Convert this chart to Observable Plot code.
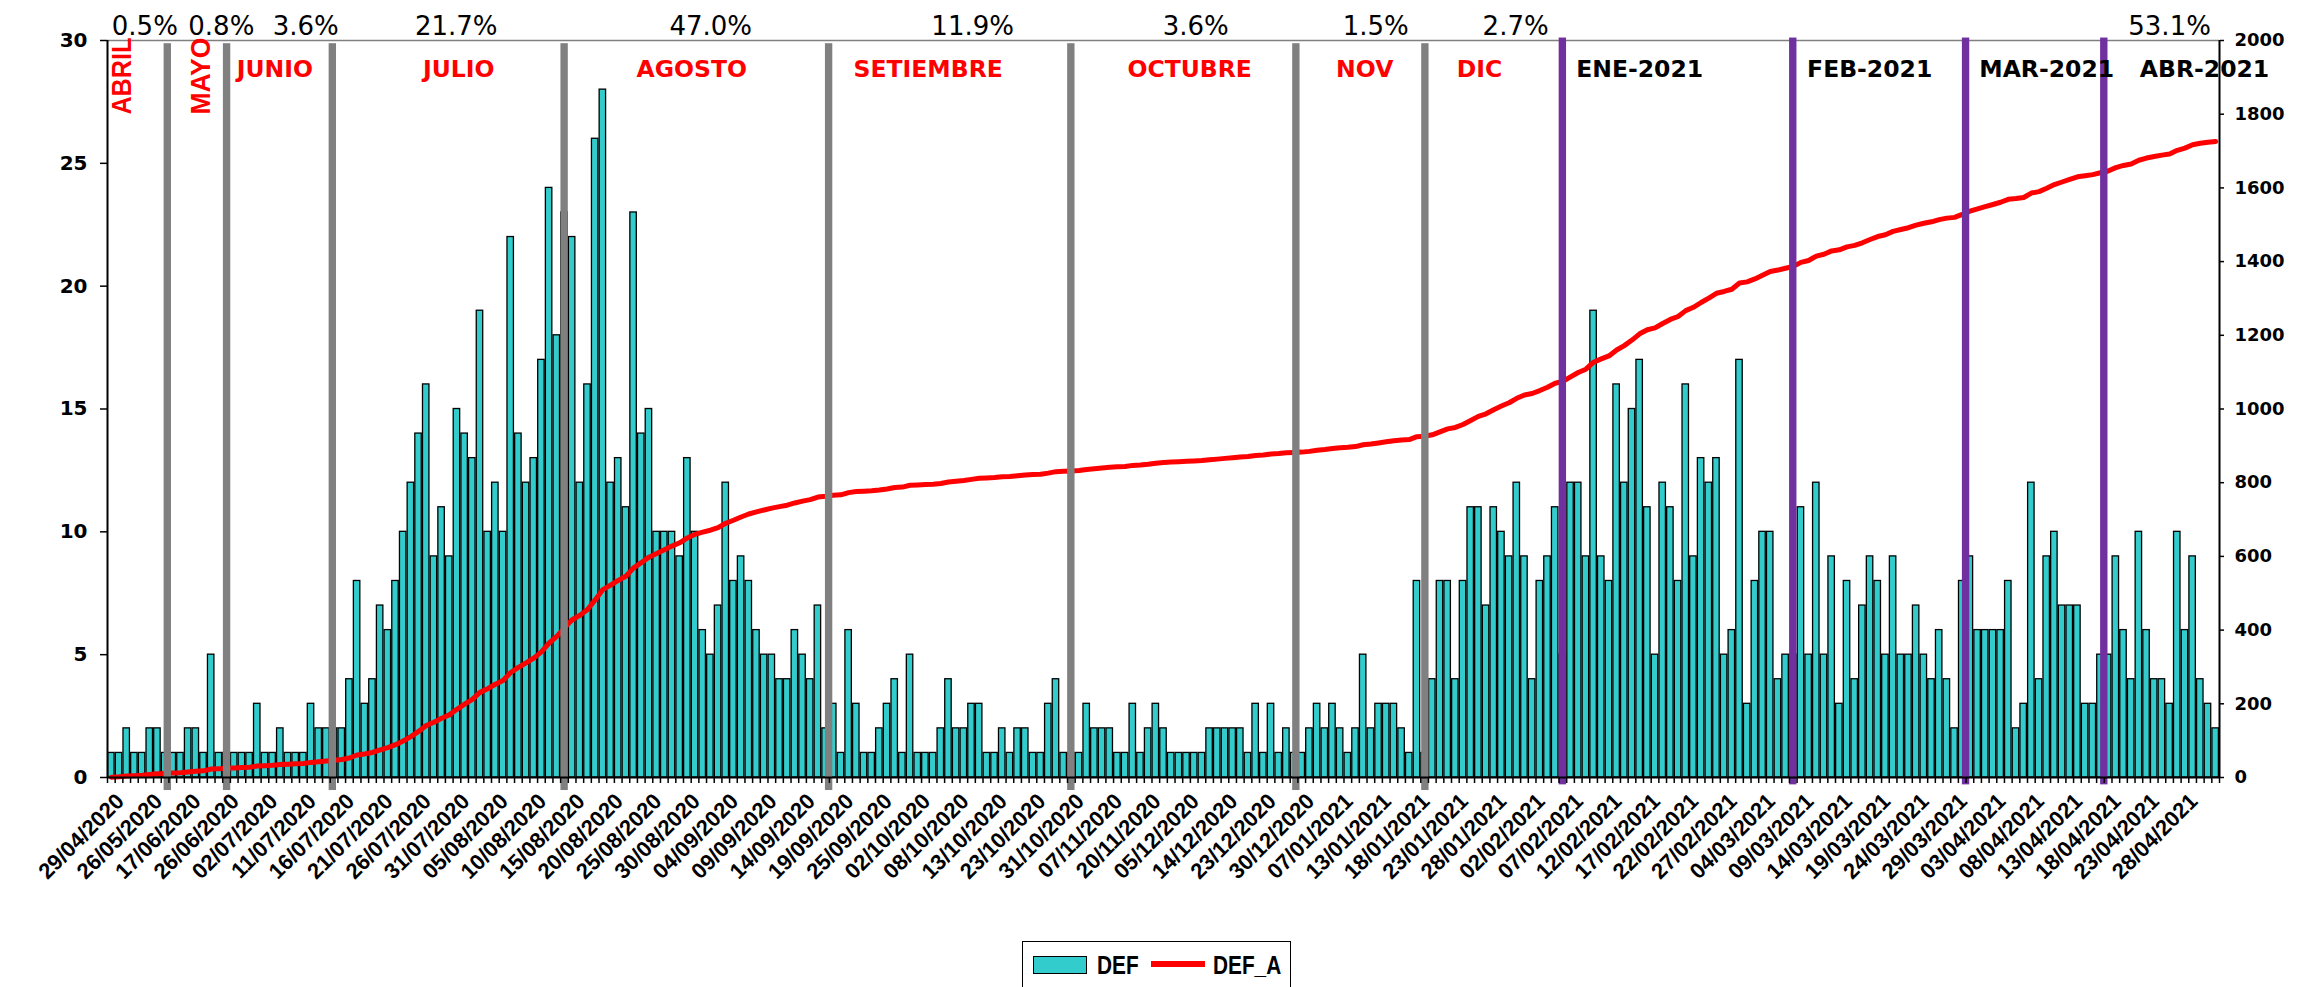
<!DOCTYPE html>
<html><head><meta charset="utf-8">
<script src="https://cdn.jsdelivr.net/npm/d3@7"></script>
<script src="https://cdn.jsdelivr.net/npm/@observablehq/plot@0.6"></script>
<style>
html,body{margin:0;padding:0;background:#fff;width:2298px;height:987px;overflow:hidden;}
#wrap{position:relative;width:2298px;height:987px;}
#legend{position:absolute;left:1022px;top:941px;width:269px;height:70px;border:1.5px solid #000;box-sizing:border-box;
  font-family:"Liberation Sans",Arial,sans-serif;font-weight:bold;font-size:26px;color:#000;}
#legend .sw{position:absolute;left:10px;top:14px;width:54px;height:18px;background:#33CCCC;border:1.5px solid #000;box-sizing:border-box;}
#legend .t1{position:absolute;left:74px;top:8px;line-height:30px;transform:scaleX(0.8);transform-origin:left center;}
#legend .ln{position:absolute;left:128px;top:19px;width:54px;height:6px;background:#FF0000;}
#legend .t2{position:absolute;left:190px;top:8px;line-height:30px;transform:scaleX(0.8);transform-origin:left center;}
</style></head>
<body><div id="wrap"><div id="chart"></div>
<div id="legend"><div class="sw"></div><div class="t1">DEF</div><div class="ln"></div><div class="t2">DEF_A</div></div>
</div>
<script>
// ---- data ----
const tickLabels = ["29/04/2020","26/05/2020","17/06/2020","26/06/2020","02/07/2020","11/07/2020","16/07/2020","21/07/2020","26/07/2020","31/07/2020","05/08/2020","10/08/2020","15/08/2020","20/08/2020","25/08/2020","30/08/2020","04/09/2020","09/09/2020","14/09/2020","19/09/2020","25/09/2020","02/10/2020","08/10/2020","13/10/2020","23/10/2020","31/10/2020","07/11/2020","20/11/2020","05/12/2020","14/12/2020","23/12/2020","30/12/2020","07/01/2021","13/01/2021","18/01/2021","23/01/2021","28/01/2021","02/02/2021","07/02/2021","12/02/2021","17/02/2021","22/02/2021","27/02/2021","04/03/2021","09/03/2021","14/03/2021","19/03/2021","24/03/2021","29/03/2021","03/04/2021","08/04/2021","13/04/2021","18/04/2021","23/04/2021","28/04/2021"];

// DEF: daily deaths, one value per category
const def = [
1,1,2,1,1,2,2,1, 1, 1,2,2,1,5,1, 1, 1,1,1,3,1,1,2,1,1,1,3,2,2, 2,
2,4,8,3,4,7,6,8,10,12,14,16,9,11,9,15,14,13,19,10,12,10,22,14,12,13,17,24,
18,23,
22,12,16,26,28,12,13,11,23,14,15,10,10,10,9,13,10,6,5,7,12,8,9,8,6,5,
5,4,4,6,5,4,7,2, 3,
1,6,3,1,1,2,3,4,1,5,1,1,1,2,4,2,2,3,3,1,
1,2,1,2,2,1,1,3,4,1, 1,
1,3,2,2,2,1,1,3,1,2,3,2,1,1,1,1,1,2,
2,2,2,2,1,3,1,3,1,2, 1,1,
2,3,2,3,2,1,2,5,2,3,3,3,2,1,8,1, 4,
8,8,4,8,11,11,7,11,10,9,12,9,4,8,9,11, 5,
12,12,9,19,9,8,16,12,15,17,11,
5,12,11,8,16,9,13,12,13,5,6,17,3,8,10,10,4,5, 5, 11,
5,12,5,9,3,8,4,7,9,
8,5,9,5,5,7,5,4,6,4,2,8, 9,
6,6,6,6,8,2,3,12,4,9,10,7,7,7,3,3,5, 5,
9,6,4,10,6,4,4,3,10,6,9,4,3,2
];

// period shares shown above the plot
const shares = ["0.5%","0.8%","3.6%","21.7%","47.0%","11.9%","3.6%","1.5%","2.7%","53.1%"];
const redMonths = ["JUNIO","JULIO","AGOSTO","SETIEMBRE","OCTUBRE","NOV","DIC"];
const blackMonths = ["ENE-2021","FEB-2021","MAR-2021","ABR-2021"];
const vertMonths = ["ABRIL","MAYO"];

// ---- annotation layout (category-index positions) ----
const sharePos = [4.86,14.82,25.82,45.41,78.55,112.65,141.69,165.13,183.35,268.5];
const redPos = [21.78,45.74,76.07,106.86,140.9,163.7,178.66];
const blackPos = [199.5,229.45,252.5,273.05];
const vertPos = [1.95,12.15];
const grayPos = [7.85,15.57,29.34,59.52,93.96,125.5,154.8,171.6];
const purplePos = [189.5,219.5,242.0,260.0];

const N = def.length;
const cum = d3.cumsum(def);
const rows = def.map((v, i) => ({i, v, a: cum[i]}));
const LEFTMAX = 30, RIGHTMAX = 2000;
const k = LEFTMAX / RIGHTMAX;

const numFont = "DejaVu Sans";
const chart = Plot.plot({
  width: 2298, height: 941,
  marginLeft: 107, marginRight: 79, marginTop: 40, marginBottom: 164,
  x: {domain: [0, N], axis: null},
  y: {domain: [0, LEFTMAX], axis: null},
  style: {background: "transparent", overflow: "visible"},
  marks: [
    Plot.ruleY([LEFTMAX], {stroke: "#808080", strokeWidth: 1.5}),
    Plot.rectY(rows, {x1: d => d.i + 0.08, x2: d => d.i + 0.92, y1: 0, y2: "v",
      fill: "#33CCCC", stroke: "#000", strokeWidth: 1.3}),
    Plot.line(rows, {x: d => d.i + 0.5, y: d => d.a * k, stroke: "#FF0000", strokeWidth: 5}),
    Plot.rect(grayPos, {x1: d => d - 0.48, x2: d => d + 0.48, y1: -0.53, y2: 29.87, fill: "#808080"}),
    Plot.rect(purplePos, {x1: d => d - 0.48, x2: d => d + 0.48, y1: -0.3, y2: 30.1, fill: "#7030A0"}),
    Plot.ruleY([0], {stroke: "#000", strokeWidth: 2}),
    Plot.ruleX([0, N], {stroke: "#000", strokeWidth: 2}),
    Plot.axisX({ticks: d3.range(0, N + 1), tickSize: 6, tickFormat: () => "", label: null, stroke: "#000", strokeWidth: 1.5}),
    Plot.axisY({anchor: "left", ticks: d3.range(0, LEFTMAX + 1, 5), tickSize: 7, tickPadding: 13, label: null,
      fontSize: 20, fontWeight: "bold", fontFamily: numFont, fill: "#000", stroke: "#000", strokeWidth: 1.5}),
    Plot.axisY({anchor: "right", ticks: d3.range(0, RIGHTMAX + 1, 200).map(d => d * k), tickSize: 4, tickPadding: 11,
      tickFormat: d => String(Math.round(d / k)), label: null,
      fontSize: 18, fontWeight: "bold", fontFamily: numFont, fill: "#000", stroke: "#000", strokeWidth: 1.5}),
    Plot.text(tickLabels, {x: (d, j) => j * 5 + 0.5, y: 0, text: d => d, rotate: -45, textAnchor: "end",
      dx: 9, dy: 20, fontSize: 22, fontWeight: "bold", fontFamily: "Liberation Sans", fill: "#000"}),
    Plot.text(shares, {x: (d, j) => sharePos[j], y: 30.24, text: d => d, lineAnchor: "bottom",
      fontSize: 26, fontFamily: "DejaVu Sans", fill: "#000"}),
    Plot.text(redMonths, {x: (d, j) => redPos[j], y: 28.5, text: d => d, lineAnchor: "bottom",
      fontSize: 23.5, fontWeight: "bold", fontFamily: "DejaVu Sans", fill: "#FF0000"}),
    Plot.text(blackMonths, {x: (d, j) => blackPos[j], y: 28.5, text: d => d, lineAnchor: "bottom",
      fontSize: 23.5, fontWeight: "bold", fontFamily: "DejaVu Sans", fill: "#000"}),
    Plot.text(vertMonths, {x: (d, j) => vertPos[j], y: 28.55, text: d => d, rotate: -90, lineAnchor: "middle",
      fontSize: 28, fontWeight: "bold", fontFamily: "Liberation Sans", fill: "#FF0000"})
  ]
});
// condensed look for the vertical month names
d3.select(chart).selectAll("text").filter(function() { return vertMonths.includes(this.textContent); })
  .attr("textLength", 77).attr("lengthAdjust", "spacingAndGlyphs");
document.getElementById("chart").appendChild(chart);
</script>
</body></html>
